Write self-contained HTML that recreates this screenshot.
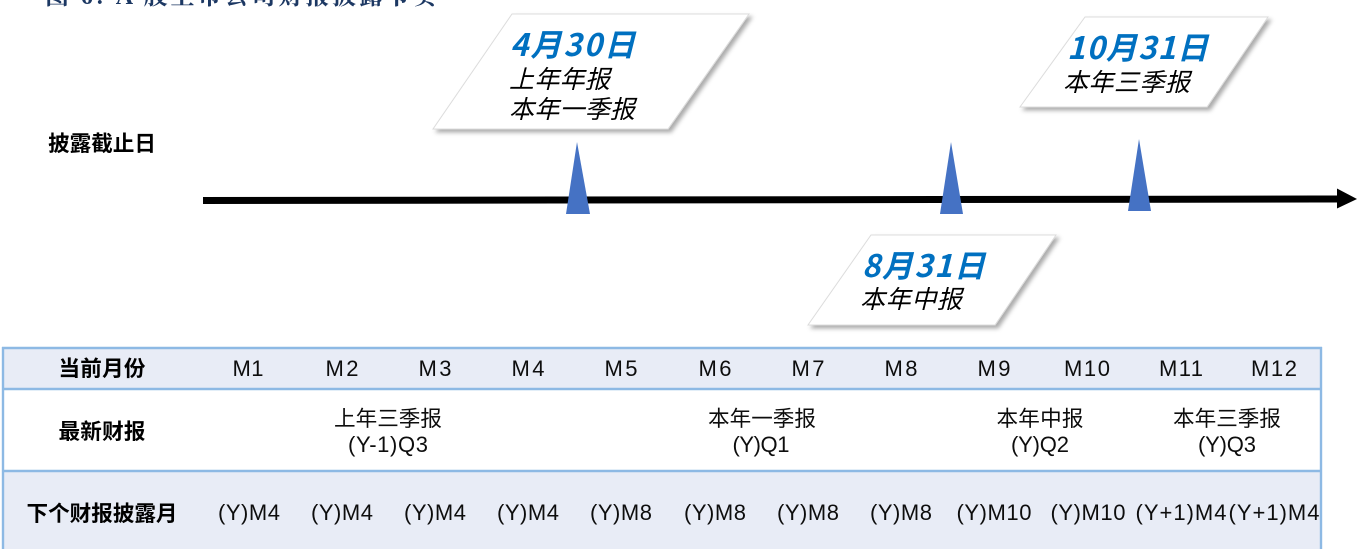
<!DOCTYPE html>
<html lang="zh">
<head>
<meta charset="utf-8">
<title>A股上市公司财报披露节奏</title>
<style>
html,body{margin:0;padding:0;background:#fff;width:1371px;height:549px;overflow:hidden}
svg{display:block}
text{font-family:"Liberation Sans","Noto Sans CJK SC",sans-serif}
.c{fill:#111;font-size:22px;text-anchor:middle}
.cj{fill:#111;font-size:21.6px;text-anchor:middle;font-family:"Noto Sans CJK SC",sans-serif;font-weight:400}
.h{fill:#000;font-size:21.6px;font-weight:700;text-anchor:middle;font-family:"Noto Sans CJK SC",sans-serif}
.d{fill:#0070c0;font-size:31px;font-weight:700;font-family:"Noto Sans CJK SC",sans-serif}
.s{fill:#000;font-size:25px;font-weight:400;font-family:"Noto Sans CJK SC",sans-serif}
</style>
</head>
<body>
<svg width="1371" height="549" viewBox="0 0 1371 549" xmlns="http://www.w3.org/2000/svg">
<defs>
<filter id="sh" x="-10%" y="-15%" width="125%" height="135%">
<feDropShadow dx="3" dy="3" stdDeviation="2" flood-color="#000" flood-opacity=".33"/>
</filter>
<filter id="b" x="-2%" y="-2%" width="104%" height="104%"><feGaussianBlur stdDeviation="0.35"/></filter>
</defs>
<rect width="1371" height="549" fill="#fff"/>
<g filter="url(#b)">
<text x="45" y="4" textLength="392" lengthAdjust="spacing" style="font-family:'Liberation Serif','Noto Serif CJK SC',serif;font-size:24px;font-weight:700;fill:#1f3864">图 6: A 股上市公司财报披露节奏</text>

<!-- timeline -->
<polygon points="203,197 1340,195.5 1340,202.5 203,204" fill="#000"/>
<polygon points="1337,188.5 1357,199 1337,208.5" fill="#000"/>
<polygon points="577,142 566,214 590,214" fill="#4472c4"/>
<polygon points="951,142 940,214 963,214" fill="#4472c4"/>
<polygon points="1139,139 1128,211 1151,211" fill="#4472c4"/>

<!-- callouts -->
<polygon points="512,14 749,14 668,129 433,129" fill="#fff" stroke="#dcdcdc" stroke-width="1" filter="url(#sh)"/>
<polygon points="1085,17 1268,17 1207,107 1020,107" fill="#fff" stroke="#dcdcdc" stroke-width="1" filter="url(#sh)"/>
<polygon points="871,235 1056,235 995,325 808,325" fill="#fff" stroke="#dcdcdc" stroke-width="1" filter="url(#sh)"/>

<g font-style="italic">
<text class="d" x="510" y="56" textLength="125" font-style="italic">4月30日</text>
<text class="s" x="509" y="88" textLength="101" font-style="italic">上年年报</text>
<text class="s" x="509" y="118" textLength="126" font-style="italic">本年一季报</text>
<text class="d" x="1067" y="59" textLength="141" font-style="italic">10月31日</text>
<text class="s" x="1063" y="91" textLength="127" font-style="italic">本年三季报</text>
<text class="d" x="862" y="277" textLength="123" font-style="italic">8月31日</text>
<text class="s" x="860" y="308" textLength="102" font-style="italic">本年中报</text>
</g>

<text x="102" y="151" class="h" textLength="108">披露截止日</text>

<!-- table -->
<rect x="3" y="348" width="1318" height="41" fill="#e8ecf6"/>
<rect x="3" y="389" width="1318" height="82" fill="#fff"/>
<rect x="3" y="471" width="1318" height="78" fill="#e8ecf6"/>
<g stroke="#8db9e4" stroke-width="2.4" fill="none">
<line x1="2" y1="348" x2="1322" y2="348"/>
<line x1="2" y1="389" x2="1322" y2="389"/>
<line x1="2" y1="471" x2="1322" y2="471"/>
<line x1="3" y1="347" x2="3" y2="549"/>
<line x1="1321" y1="347" x2="1321" y2="549"/>
</g>

<text class="h" x="102" y="376" textLength="87">当前月份</text>
<text class="h" x="102" y="439" textLength="87">最新财报</text>
<text class="h" x="102" y="521" textLength="151">下个财报披露月</text>

<g>
<text class="c" x="248" y="376" textLength="31">M1</text>
<text class="c" x="342" y="376" textLength="33">M2</text>
<text class="c" x="435" y="376" textLength="33">M3</text>
<text class="c" x="528" y="376" textLength="33">M4</text>
<text class="c" x="621" y="376" textLength="33">M5</text>
<text class="c" x="715" y="376" textLength="33">M6</text>
<text class="c" x="808" y="376" textLength="33">M7</text>
<text class="c" x="901" y="376" textLength="33">M8</text>
<text class="c" x="994" y="376" textLength="33">M9</text>
<text class="c" x="1087" y="376" textLength="46">M10</text>
<text class="c" x="1181" y="376" textLength="44">M11</text>
<text class="c" x="1274" y="376" textLength="46">M12</text>
</g>

<text class="cj" x="388" y="426" textLength="108">上年三季报</text>
<text class="c" x="388" y="452" textLength="80">(Y-1)Q3</text>
<text class="cj" x="762" y="426" textLength="108">本年一季报</text>
<text class="c" x="761" y="452" textLength="57">(Y)Q1</text>
<text class="cj" x="1040" y="426" textLength="87">本年中报</text>
<text class="c" x="1040" y="452" textLength="58">(Y)Q2</text>
<text class="cj" x="1227" y="426" textLength="108">本年三季报</text>
<text class="c" x="1227" y="452" textLength="58">(Y)Q3</text>

<g>
<text class="c" x="249" y="520" textLength="62">(Y)M4</text>
<text class="c" x="342" y="520" textLength="62">(Y)M4</text>
<text class="c" x="435" y="520" textLength="62">(Y)M4</text>
<text class="c" x="528" y="520" textLength="62">(Y)M4</text>
<text class="c" x="621" y="520" textLength="62">(Y)M8</text>
<text class="c" x="715" y="520" textLength="62">(Y)M8</text>
<text class="c" x="808" y="520" textLength="62">(Y)M8</text>
<text class="c" x="901" y="520" textLength="62">(Y)M8</text>
<text class="c" x="994" y="520" textLength="75">(Y)M10</text>
<text class="c" x="1088" y="520" textLength="75">(Y)M10</text>
<text class="c" x="1181" y="520" textLength="91">(Y+1)M4</text>
<text class="c" x="1274" y="520" textLength="91">(Y+1)M4</text>
</g>
</g>
</svg>
</body>
</html>
